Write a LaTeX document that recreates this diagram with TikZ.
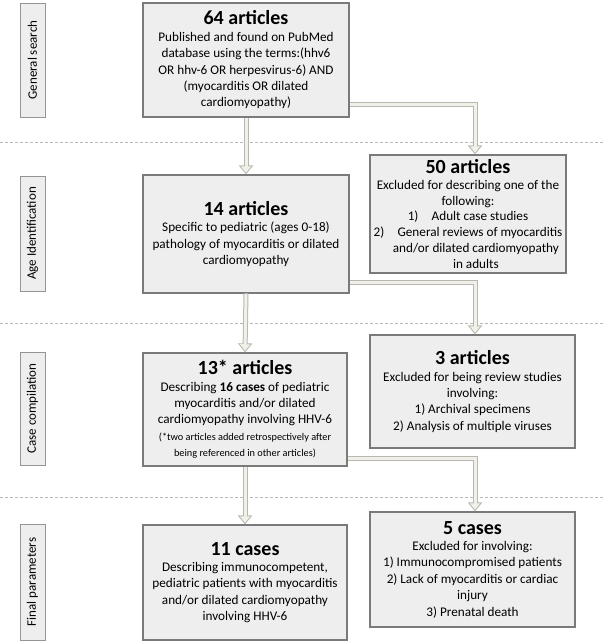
\documentclass[tikz,border=0pt]{standalone}
\usepackage{fontspec}
\setmainfont{Carlito}
\usetikzlibrary{arrows.meta,shadows,calc}
\definecolor{boxfill}{HTML}{EEEEEE}
\definecolor{boxline}{HTML}{7A7A7A}
\definecolor{pale}{HTML}{F1F1EA}
\definecolor{paleline}{HTML}{B8B8B0}
\begin{document}
\begin{tikzpicture}[x=1pt,y=1pt,
  box/.style={draw=boxline, line width=1.3pt, fill=boxfill, align=center,
    inner sep=1pt, font=\fontsize{13.2}{16.4}\selectfont,
    drop shadow={shadow xshift=1.2pt, shadow yshift=-1.2pt, opacity=0.35}},
  lab/.style={draw=boxline!80, line width=1pt, fill=boxfill, rotate=90,
    minimum height=25pt, inner sep=0pt, font=\fontsize{13}{14}\selectfont,
    drop shadow={shadow xshift=0.8pt, shadow yshift=-0.8pt, opacity=0.3}},
  sep/.style={draw=gray!55, line width=0.5pt, dash pattern=on 3pt off 2pt}
]
\useasboundingbox (0,0) rectangle (605,-643);
\newcommand{\conn}[1]{%
  \draw[line width=5pt, draw=paleline, -{Triangle[length=9pt,width=14pt]}] #1;
  \draw[line width=3pt, draw=pale, shorten >=1.6pt, -{Triangle[length=6.5pt,width=10pt]}] #1;}
\newcommand{\ttl}[1]{{\fontsize{20}{21}\selectfont\bfseries #1}\\}
\newcommand{\smalltxt}{\fontsize{10.3}{15}\selectfont}

% separators
\coordinate (s1l) at (0,-142); \coordinate (s1r) at (605,-142);
\coordinate (s2l) at (0,-323); \coordinate (s2r) at (605,-323);
\coordinate (s3l) at (0,-497); \coordinate (s3r) at (605,-497);
\draw[sep] (s1l) -- (s1r);
\draw[sep] (s2l) -- (s2r);
\draw[sep] (s3l) -- (s3r);

% stage labels
\node[lab, minimum width=114pt] (l1) at (32.5,-60) {General search};
\node[lab, minimum width=115pt] (l2) at (32.5,-233.5) {Age Identification};
\node[lab, minimum width=113pt] (l3) at (32.5,-408.5) {Case compilation};
\node[lab, minimum width=116pt] (l4) at (32.5,-582) {Final parameters};

% main boxes
\node[box, minimum width=206pt, minimum height=114pt] (b1) at (246,-60)
 {\ttl{64 articles}
  Published and found on PubMed\\
  database using the terms:(hhv6\\
  OR hhv-6 OR herpesvirus-6) AND\\
  (myocarditis OR dilated\\
  cardiomyopathy)};
\node[box, minimum width=206pt, minimum height=118pt] (b2) at (246,-234)
 {\ttl{14 articles}
  Specific to pediatric (ages 0-18)\\
  pathology of myocarditis or dilated\\
  cardiomyopathy};
\node[box, minimum width=204pt, minimum height=113pt] (b3) at (245,-409.5)
 {\ttl{13* articles}
  Describing \textbf{16 cases} of pediatric\\
  myocarditis and/or dilated\\
  cardiomyopathy involving HHV-6\\
  {\smalltxt (*two articles added retrospectively after}\\
  {\smalltxt being referenced in other articles)}};
\node[box, minimum width=204pt, minimum height=115pt] (b4) at (245,-582.5)
 {\ttl{11 cases}
  Describing immunocompetent,\\
  pediatric patients with myocarditis\\
  and/or dilated cardiomyopathy\\
  involving HHV-6};

% exclusion boxes
\node[box, minimum width=196pt, minimum height=118pt,
      font=\fontsize{13.2}{15.8}\selectfont] (e1) at (468,-214)
 {\ttl{50 articles}
  Excluded for describing one of the\\
  following:\\
  1)\quad Adult case studies\\
  2)\quad General reviews of myocarditis\\
  \hspace*{1.2em}and/or dilated cardiomyopathy\\
  \hspace*{1.2em}in adults};
\node[box, minimum width=205pt, minimum height=113pt] (e2) at (472.5,-391.5)
 {\ttl{3 articles}
  Excluded for being review studies\\
  involving:\\
  1) Archival specimens\\
  2) Analysis of multiple viruses};
\node[box, minimum width=205pt, minimum height=115pt] (e3) at (472.5,-569.5)
 {\ttl{5 cases}
  Excluded for involving:\\
  1) Immunocompromised patients\\
  2) Lack of myocarditis or cardiac\\
  injury\\
  3) Prenatal death};

% connectors
\conn{(b1.south) -- (b2.north)}
\conn{(b2.south) -- (b3.north)}
\conn{(b3.south) -- (b4.north)}
\conn{($(b1.south east)+(0,13)$) -| ($(e1.north)+(7,0)$)}
\conn{($(b2.south east)+(0,11)$) -| ($(e2.north)+(2.5,0)$)}
\conn{($(b3.south east)+(0,8)$) -| ($(e3.north)+(2.5,0)$)}
\end{tikzpicture}
\end{document}
